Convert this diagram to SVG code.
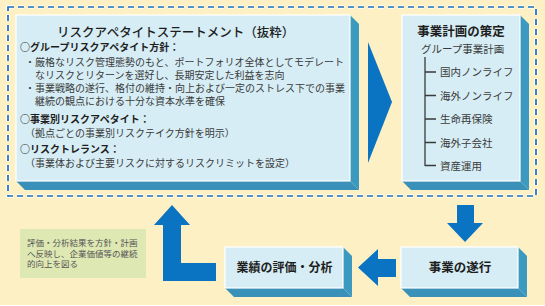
<svg xmlns="http://www.w3.org/2000/svg" width="545" height="306" viewBox="0 0 545 306">
<defs>
<style>
.front{fill:#D6EDF5;stroke:#FFFFFF;stroke-width:1.2}
.side{fill:#3C99BF}
.bot{fill:#3990B8}
.arrow{fill:#0A74C2}
.halo{fill:none;stroke:#FFFFFF;stroke-width:3.6;stroke-dasharray:6 4}
.dash{fill:none;stroke:#1B6DB8;stroke-width:1.7;stroke-dasharray:6 4}
text{font-family:"Noto Sans CJK JP","Noto Sans",sans-serif}
.title{font-size:12.5px;font-weight:500;fill:#1e1e1e}
.head{font-size:10px;font-weight:bold;fill:#1e1e1e}
.body{font-size:10px;fill:#3a3a3a}
.box{font-size:12.5px;font-weight:bold;fill:#1e1e1e;text-anchor:middle}
.tree{font-size:10.5px;fill:#3a3a3a}
.note{font-size:8.5px;fill:#555555}
.tline{fill:none;stroke:#3a3a3a;stroke-width:1.3}
</style>
</defs>
<rect x="0" y="0" width="545" height="306" fill="#FFFFFF"/>
<rect x="0" y="0" width="545" height="305" fill="#FDF0C4"/>

<g id="scope">
<rect class="halo" x="8" y="7" width="528" height="189"/>
<rect class="dash" x="8" y="7" width="528" height="189"/>
</g>

<g id="connectors">
<polygon class="arrow" points="368,42 392,102 368,163"/>
<polygon class="arrow" points="457,205 474,205 474,223 483,223 465,242 447,223 457,223"/>
<polygon class="arrow" points="396,259 378,259 378,249 358,267.5 378,286 378,277 396,277"/>
<polygon class="arrow" points="172,205 190,225 181,225 181,263 216,263 216,281 163,281 163,225 154,225"/>
</g>

<g id="risk-appetite">
<polygon class="side" points="350,15 359,24 359,190 350,181"/>
<polygon class="bot" points="16,181 350,181 359,190 25,190"/>
<rect class="front" x="16" y="15" width="334" height="166"/>
<text class="title" x="57" y="37">リスクアペタイトステートメント（抜粋）</text>
<text class="head" x="20" y="51">○グループリスクアペタイト方針：</text>
<text class="body" x="25" y="66">・厳格なリスク管理態勢のもと、ポートフォリオ全体としてモデレート</text>
<text class="body" x="35" y="79">なリスクとリターンを選好し、長期安定した利益を志向</text>
<text class="body" x="25" y="92">・事業戦略の遂行、格付の維持・向上および一定のストレス下での事業</text>
<text class="body" x="35" y="105">継続の観点における十分な資本水準を確保</text>
<text class="head" x="20" y="123">○事業別リスクアペタイト：</text>
<text class="body" x="25" y="137">（拠点ごとの事業別リスクテイク方針を明示）</text>
<text class="head" x="20" y="153">○リスクトレランス：</text>
<text class="body" x="25" y="167">（事業体および主要リスクに対するリスクリミットを設定）</text>
</g>

<g id="business-plan">
<polygon class="side" points="520,15 529,24 529,190 520,181"/>
<polygon class="bot" points="402,181 520,181 529,190 411,190"/>
<rect class="front" x="402" y="15" width="118" height="166"/>
<text class="box" x="461" y="36">事業計画の策定</text>
<text class="tree" x="421" y="52.5">グループ事業計画</text>
<path class="tline" d="M425,57 V166 M425,72 H436 M425,95.5 H436 M425,119 H436 M425,142.5 H436 M425,165.5 H436"/>
<text class="tree" x="440" y="76">国内ノンライフ</text>
<text class="tree" x="440" y="99.5">海外ノンライフ</text>
<text class="tree" x="440" y="123">生命再保険</text>
<text class="tree" x="440" y="146.5">海外子会社</text>
<text class="tree" x="440" y="169.5">資産運用</text>
</g>

<g id="execution">
<polygon class="side" points="518,247 527,256 527,297 518,288"/>
<polygon class="bot" points="401,288 518,288 527,297 410,297"/>
<rect class="front" x="401" y="247" width="117" height="41"/>
<text class="box" x="460" y="272">事業の遂行</text>
</g>

<g id="evaluation">
<polygon class="side" points="343,247 352,256 352,297 343,288"/>
<polygon class="bot" points="225,288 343,288 352,297 234,297"/>
<rect class="front" x="225" y="247" width="118" height="41"/>
<text class="box" x="284.5" y="272" style="font-size:12px">業績の評価・分析</text>
</g>

<g id="note">
<rect x="20" y="229" width="126" height="49" fill="#DEE8B3"/>
<text class="note" x="27" y="246">評価・分析結果を方針・計画</text>
<text class="note" x="27" y="256.5">へ反映し、企業価値等の継続</text>
<text class="note" x="27" y="267">的向上を図る</text>
</g>
</svg>
